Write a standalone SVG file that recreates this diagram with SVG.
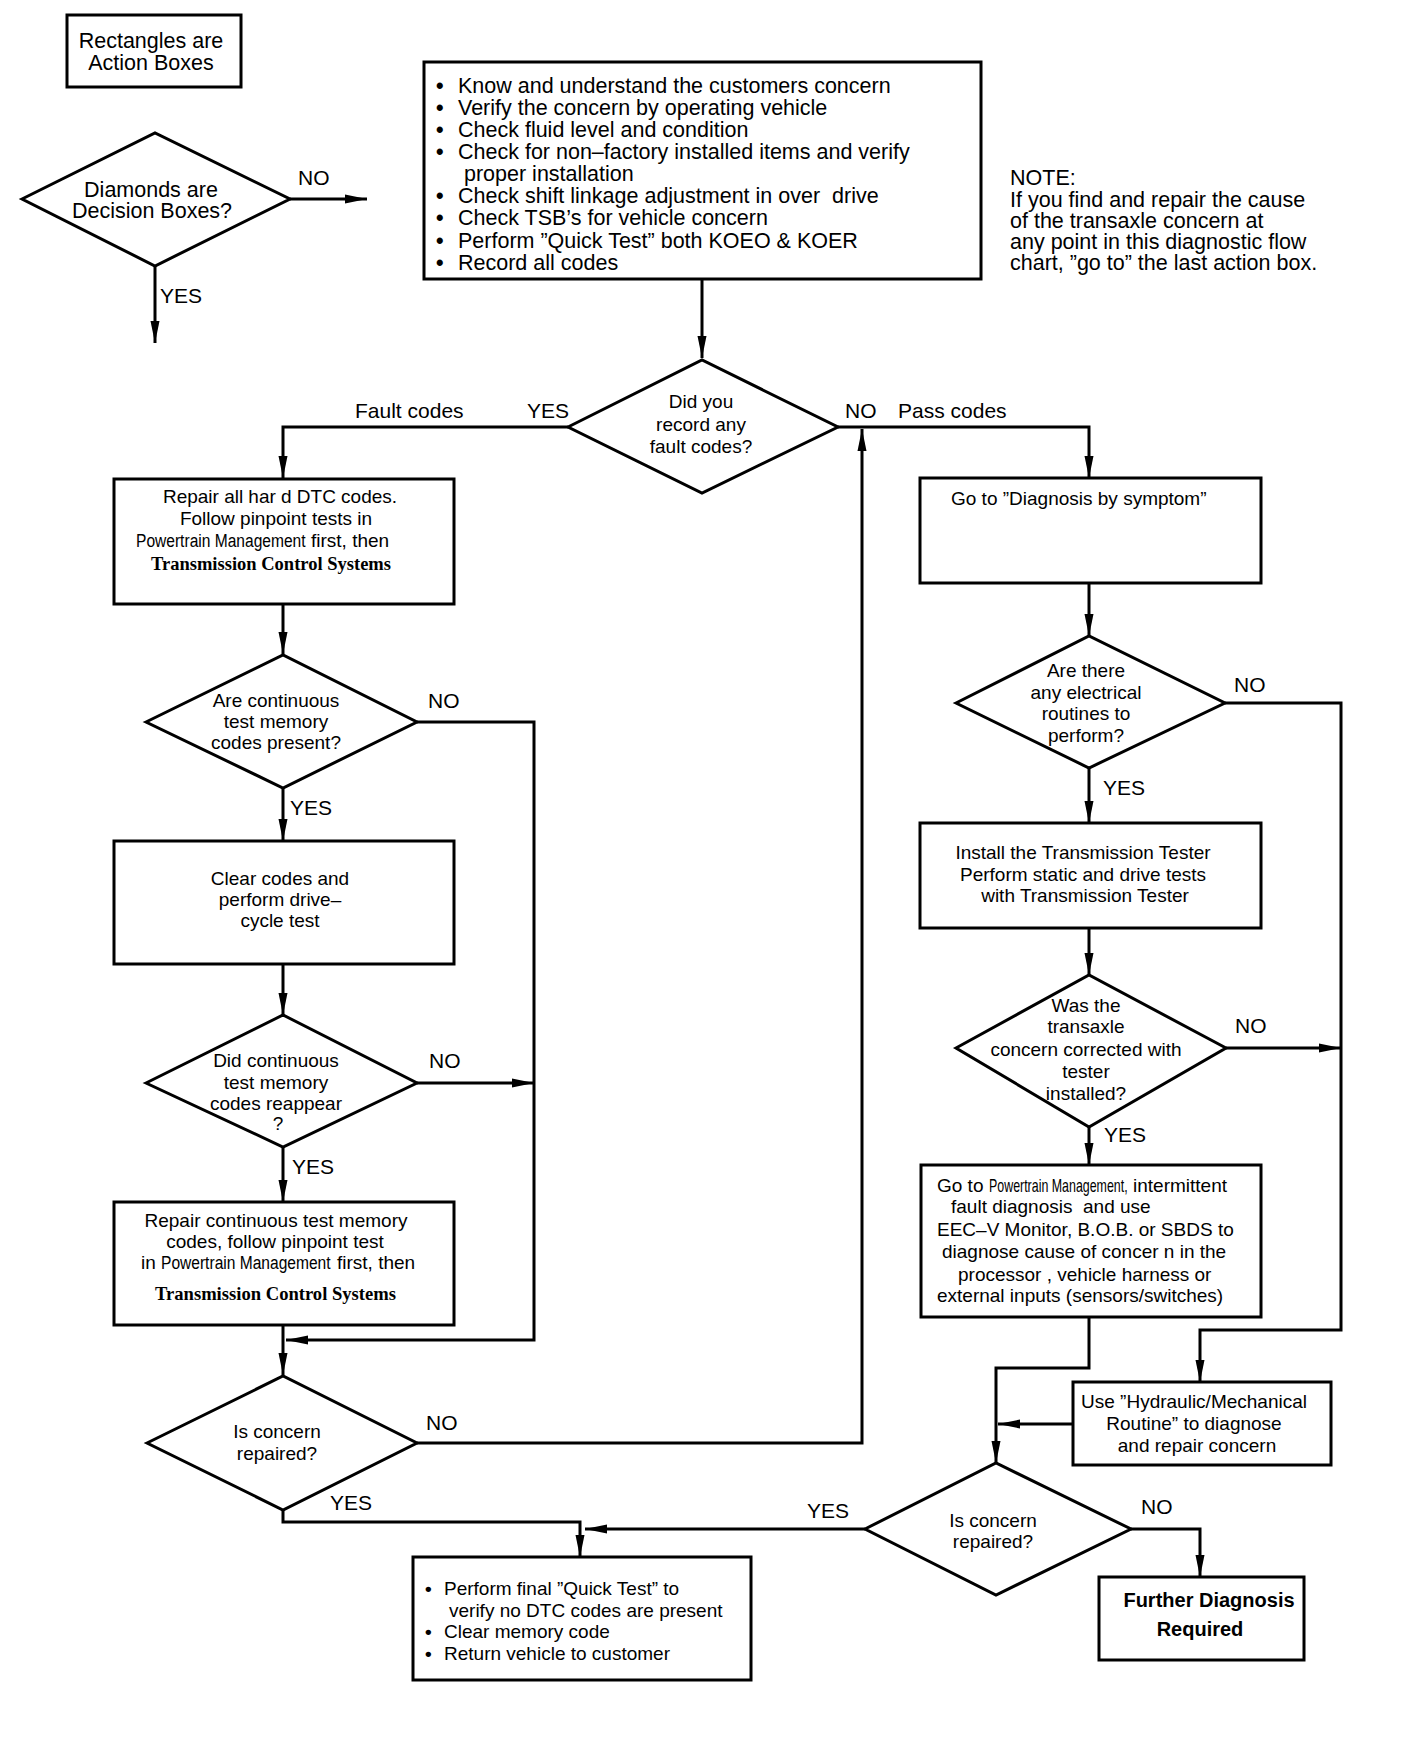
<svg xmlns="http://www.w3.org/2000/svg" width="1408" height="1738" viewBox="0 0 1408 1738">
<style>
  .shape { fill: #fff; stroke: #000; stroke-width: 3; }
  .conn { fill: none; stroke: #000; stroke-width: 3; }
  text { font-family: "Liberation Sans", Arial, sans-serif; fill: #000; }
  .big { font-size: 21.5px; }
  .lbl { font-size: 21px; }
  .t { font-size: 19px; }
  .c { text-anchor: middle; }
  .pm { font-size: 19px; }
  .pm2 { font-size: 17.5px; }
  .bul { font-weight: bold; }
  .tcs { font-family: "Liberation Serif", "Times New Roman", serif; font-weight: bold; font-size: 18px; }
  .bold { font-size: 20px; font-weight: bold; }
</style>
<defs>
  <marker id="ah" markerUnits="userSpaceOnUse" markerWidth="22" markerHeight="10" refX="22" refY="5" orient="auto" overflow="visible">
    <path d="M0,0.5 L22,5 L0,9.5 z" fill="#000"/>
  </marker>
</defs>
<rect width="1408" height="1738" fill="#fff"/>

<g id="connectors">
  <path class="conn" marker-end="url(#ah)" d="M290,199 H367"/>
  <path class="conn" marker-end="url(#ah)" d="M155,266 V343"/>
  <path class="conn" marker-end="url(#ah)" d="M702,279 V358"/>
  <path class="conn" marker-end="url(#ah)" d="M568,427 H283 V478"/>
  <path class="conn" marker-end="url(#ah)" d="M838,427 H1089 V478"/>
  <path class="conn" marker-end="url(#ah)" d="M283,604 V654"/>
  <path class="conn" marker-end="url(#ah)" d="M283,788 V841"/>
  <path class="conn" marker-end="url(#ah)" d="M417,722 H534 V1340 H286"/>
  <path class="conn" marker-end="url(#ah)" d="M283,964 V1015"/>
  <path class="conn" marker-end="url(#ah)" d="M417,1083 H534"/>
  <path class="conn" marker-end="url(#ah)" d="M283,1147 V1202"/>
  <path class="conn" marker-end="url(#ah)" d="M283,1325 V1375"/>
  <path class="conn" marker-end="url(#ah)" d="M417,1443 H862 V429"/>
  <path class="conn" marker-end="url(#ah)" d="M283,1510 V1522 H580 V1557"/>
  <path class="conn" marker-end="url(#ah)" d="M1089,583 V636"/>
  <path class="conn" marker-end="url(#ah)" d="M1225,703 H1341 V1330 H1200 V1382"/>
  <path class="conn" marker-end="url(#ah)" d="M1089,768 V823"/>
  <path class="conn" marker-end="url(#ah)" d="M1089,928 V975"/>
  <path class="conn" marker-end="url(#ah)" d="M1226,1048 H1341"/>
  <path class="conn" marker-end="url(#ah)" d="M1089,1127 V1165"/>
  <path class="conn" marker-end="url(#ah)" d="M1089,1317 V1368 H996 V1463"/>
  <path class="conn" marker-end="url(#ah)" d="M1073,1424 H998"/>
  <path class="conn" marker-end="url(#ah)" d="M865,1529 H585"/>
  <path class="conn" marker-end="url(#ah)" d="M1131,1529 H1200 V1577"/>
</g>

<g id="labels" class="lbl">
  <text x="298" y="185">NO</text>
  <text x="160" y="303">YES</text>
  <text x="355" y="418">Fault codes</text>
  <text x="527" y="418">YES</text>
  <text x="845" y="418">NO</text>
  <text x="898" y="418">Pass codes</text>
  <text x="428" y="708">NO</text>
  <text x="290" y="815">YES</text>
  <text x="429" y="1068">NO</text>
  <text x="292" y="1174">YES</text>
  <text x="426" y="1430">NO</text>
  <text x="330" y="1510">YES</text>
  <text x="1234" y="692">NO</text>
  <text x="1103" y="795">YES</text>
  <text x="1235" y="1033">NO</text>
  <text x="1104" y="1142">YES</text>
  <text x="807" y="1518">YES</text>
  <text x="1141" y="1514">NO</text>
</g>

<g id="legend-rect">
  <rect class="shape" x="67" y="15" width="174" height="72"/>
  <text class="big c" x="151" y="48">Rectangles are</text>
  <text class="big c" x="151" y="70">Action Boxes</text>
</g>

<g id="legend-diamond">
  <polygon class="shape" points="22,199 155,133 290,199 155,266"/>
  <text class="big c" x="151" y="197">Diamonds are</text>
  <text class="big c" x="152" y="218">Decision Boxes?</text>
</g>

<g id="start-box">
  <rect class="shape" x="424" y="62" width="557" height="217"/>
  <g class="big">
    <text x="436" y="93"><tspan class="bul">•</tspan><tspan x="458">Know and understand the customers concern</tspan></text>
    <text x="436" y="115"><tspan class="bul">•</tspan><tspan x="458">Verify the concern by operating vehicle</tspan></text>
    <text x="436" y="137"><tspan class="bul">•</tspan><tspan x="458">Check fluid level and condition</tspan></text>
    <text x="436" y="159"><tspan class="bul">•</tspan><tspan x="458">Check for non–factory installed items and verify</tspan></text>
    <text x="464" y="181">proper installation</text>
    <text x="436" y="203"><tspan class="bul">•</tspan><tspan x="458">Check shift linkage adjustment in over&#160; drive</tspan></text>
    <text x="436" y="225"><tspan class="bul">•</tspan><tspan x="458">Check TSB’s for vehicle concern</tspan></text>
    <text x="436" y="248"><tspan class="bul">•</tspan><tspan x="458">Perform ”Quick Test” both KOEO &amp; KOER</tspan></text>
    <text x="436" y="270"><tspan class="bul">•</tspan><tspan x="458">Record all codes</tspan></text>
  </g>
</g>

<g id="note">
  <text class="big" x="1010" y="185">NOTE:</text>
  <text class="big" x="1010" y="207">If you find and repair the cause</text>
  <text class="big" x="1010" y="228">of the transaxle concern at</text>
  <text class="big" x="1010" y="249">any point in this diagnostic flow</text>
  <text class="big" x="1010" y="270">chart, ”go to” the last action box.</text>
</g>

<g id="d-fault-codes">
  <polygon class="shape" points="568,427 702,360 838,427 702,493"/>
  <text class="t c" x="701" y="408">Did you</text>
  <text class="t c" x="701" y="431">record any</text>
  <text class="t c" x="701" y="453">fault codes?</text>
</g>

<g id="b-repair-hard">
  <rect class="shape" x="114" y="479" width="340" height="125"/>
  <text class="t" x="163" y="503" textLength="234">Repair all har d DTC codes.</text>
  <text class="t c" x="276" y="525">Follow pinpoint tests in</text>
  <text class="pm" transform="translate(136,547) scale(0.82,1)">Powertrain Management</text>
  <text class="t" x="311" y="547">first, then</text>
  <text class="tcs" x="151" y="570" textLength="240" lengthAdjust="spacingAndGlyphs">Transmission Control Systems</text>
</g>

<g id="d-ctm-present">
  <polygon class="shape" points="146,722 283,655 417,722 283,788"/>
  <text class="t c" x="276" y="707">Are continuous</text>
  <text class="t c" x="276" y="728">test memory</text>
  <text class="t c" x="276" y="749">codes present?</text>
</g>

<g id="b-clear-codes">
  <rect class="shape" x="114" y="841" width="340" height="123"/>
  <text class="t c" x="280" y="885">Clear codes and</text>
  <text class="t c" x="280" y="906">perform drive–</text>
  <text class="t c" x="280" y="927">cycle test</text>
</g>

<g id="d-ctm-reappear">
  <polygon class="shape" points="146,1083 283,1015 417,1083 283,1147"/>
  <text class="t c" x="276" y="1067">Did continuous</text>
  <text class="t c" x="276" y="1089">test memory</text>
  <text class="t c" x="276" y="1110">codes reappear</text>
  <text class="t c" x="278" y="1130">?</text>
</g>

<g id="b-repair-ctm">
  <rect class="shape" x="114" y="1202" width="340" height="123"/>
  <text class="t c" x="276" y="1227">Repair continuous test memory</text>
  <text class="t c" x="275" y="1248">codes, follow pinpoint test</text>
  <text class="t" x="141" y="1269">in</text>
  <text class="pm" transform="translate(161,1269) scale(0.82,1)">Powertrain Management</text>
  <text class="t" x="337" y="1269">first, then</text>
  <text class="tcs" x="155" y="1300" textLength="241" lengthAdjust="spacingAndGlyphs">Transmission Control Systems</text>
</g>

<g id="d-repaired-left">
  <polygon class="shape" points="147,1443 283,1376 417,1443 283,1510"/>
  <text class="t c" x="277" y="1438">Is concern</text>
  <text class="t c" x="277" y="1460">repaired?</text>
</g>

<g id="b-final">
  <rect class="shape" x="413" y="1557" width="338" height="123"/>
  <text class="t" x="425" y="1595"><tspan class="bul">•</tspan><tspan x="444">Perform final ”Quick Test” to</tspan></text>
  <text class="t" x="449" y="1617">verify no DTC codes are present</text>
  <text class="t" x="425" y="1638"><tspan class="bul">•</tspan><tspan x="444">Clear memory code</tspan></text>
  <text class="t" x="425" y="1660"><tspan class="bul">•</tspan><tspan x="444">Return vehicle to customer</tspan></text>
</g>

<g id="b-symptom">
  <rect class="shape" x="920" y="478" width="341" height="105"/>
  <text class="t" x="951" y="505">Go to ”Diagnosis by symptom”</text>
</g>

<g id="d-electrical">
  <polygon class="shape" points="956,703 1089,636 1225,703 1089,768"/>
  <text class="t c" x="1086" y="677">Are there</text>
  <text class="t c" x="1086" y="699">any electrical</text>
  <text class="t c" x="1086" y="720">routines to</text>
  <text class="t c" x="1086" y="742">perform?</text>
</g>

<g id="b-tester">
  <rect class="shape" x="920" y="823" width="341" height="105"/>
  <text class="t c" x="1083" y="859">Install the Transmission Tester</text>
  <text class="t c" x="1083" y="881">Perform static and drive tests</text>
  <text class="t c" x="1085" y="902">with Transmission Tester</text>
</g>

<g id="d-corrected">
  <polygon class="shape" points="956,1048 1089,975 1226,1048 1089,1127"/>
  <text class="t c" x="1086" y="1012">Was the</text>
  <text class="t c" x="1086" y="1033">transaxle</text>
  <text class="t c" x="1086" y="1056">concern corrected with</text>
  <text class="t c" x="1086" y="1078">tester</text>
  <text class="t c" x="1086" y="1100">installed?</text>
</g>

<g id="b-intermittent">
  <rect class="shape" x="921" y="1165" width="340" height="152"/>
  <text class="t" x="937" y="1192">Go to</text>
  <text class="pm2" transform="translate(989,1192) scale(0.71,1)">Powertrain Management,</text>
  <text class="t" x="1133" y="1192">intermittent</text>
  <text class="t" x="951" y="1213">fault diagnosis&#160; and use</text>
  <text class="t" x="937" y="1236">EEC–V Monitor, B.O.B. or SBDS to</text>
  <text class="t" x="942" y="1258">diagnose cause of concer n in the</text>
  <text class="t" x="958" y="1281">processor , vehicle harness or</text>
  <text class="t" x="937" y="1302">external inputs (sensors/switches)</text>
</g>

<g id="b-hydraulic">
  <rect class="shape" x="1073" y="1382" width="258" height="83"/>
  <text class="t c" x="1194" y="1408">Use ”Hydraulic/Mechanical</text>
  <text class="t c" x="1194" y="1430">Routine” to diagnose</text>
  <text class="t c" x="1197" y="1452">and repair concern</text>
</g>

<g id="d-repaired-right">
  <polygon class="shape" points="865,1529 996,1463 1131,1529 996,1595"/>
  <text class="t c" x="993" y="1527">Is concern</text>
  <text class="t c" x="993" y="1548">repaired?</text>
</g>

<g id="b-further">
  <rect class="shape" x="1099" y="1577" width="205" height="83"/>
  <text class="bold c" x="1209" y="1607">Further Diagnosis</text>
  <text class="bold c" x="1200" y="1636">Required</text>
</g>
</svg>
